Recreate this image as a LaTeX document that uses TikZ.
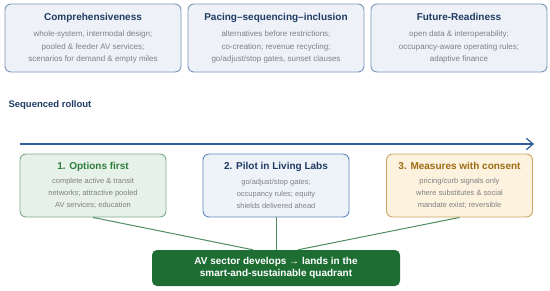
\documentclass[tikz,border=0pt]{standalone}
\usepackage{fontspec}
\setmainfont{Liberation Sans}
\usetikzlibrary{arrows.meta,positioning}
\definecolor{navy}{RGB}{31,59,99}
\definecolor{slate}{RGB}{128,128,128}
\definecolor{pillarline}{RGB}{122,149,184}
\definecolor{pillarfill}{RGB}{238,242,248}
\definecolor{optline}{RGB}{127,169,139}
\definecolor{optfill}{RGB}{230,241,233}
\definecolor{opttext}{RGB}{46,125,58}
\definecolor{pilotline}{RGB}{95,136,191}
\definecolor{pilotfill}{RGB}{238,243,250}
\definecolor{pilottext}{RGB}{31,59,99}
\definecolor{consline}{RGB}{201,166,100}
\definecolor{consfill}{RGB}{253,242,222}
\definecolor{constext}{RGB}{156,107,18}
\definecolor{forest}{RGB}{30,110,52}
\definecolor{ocean}{RGB}{46,94,158}
\definecolor{moss}{RGB}{79,140,95}
\newcommand{\cardtitle}[2]{{\color{#1}\bfseries\fontsize{10}{12}\selectfont #2}}
\tikzset{
  >={Straight Barb[length=2.4mm,width=4mm]},
  pillar/.style={draw=pillarline,fill=pillarfill,rounded corners=6pt,line width=0.9pt,
    minimum width=176pt,minimum height=68pt,inner sep=0pt,align=center,text=slate,
    font=\fontsize{8}{12.2}\selectfont},
  stage/.style={draw=#1line,fill=#1fill,rounded corners=6pt,line width=0.9pt,
    minimum width=146pt,minimum height=63pt,inner sep=0pt,align=center,text=slate,
    font=\fontsize{7.5}{12}\selectfont},
  outcome/.style={fill=forest,text=white,rounded corners=5pt,minimum width=248pt,
    minimum height=36pt,inner sep=0pt,align=center,font=\bfseries\fontsize{10}{12.3}\selectfont},
  link/.style={draw=moss,line width=1pt},
  timeline/.style={->,draw=ocean,line width=1.2pt},
}

\begin{document}
\begin{tikzpicture}[x=1pt,y=1pt]
    \useasboundingbox (0,0) rectangle (550,290);
    % guiding principles
    \node[pillar] (compr) at (93,252) {\cardtitle{navy}{Comprehensiveness}\\[4.5pt]
      whole-system, intermodal design;\\ pooled \& feeder AV services;\\ scenarios for demand \& empty miles};
    \node[pillar] (pacing) at (276,252) {\cardtitle{navy}{Pacing–sequencing–inclusion}\\[4.5pt]
      alternatives before restrictions;\\ co-creation; revenue recycling;\\ go/adjust/stop gates, sunset clauses};
    \node[pillar] (future) at (459,252) {\cardtitle{navy}{Future-Readiness}\\[4.5pt]
      open data \& interoperability;\\ occupancy-aware operating rules;\\ adaptive finance};
    % rollout
    \node[anchor=west,text=navy,font=\bfseries\fontsize{9.5}{11}\selectfont] (seq) at (5,185) {Sequenced rollout};
    \coordinate (tstart) at (20,146);
    \coordinate (tend) at (534,146);
    \draw[timeline] (tstart) -- (tend);
    \node[stage=opt] (opt) at (93,104.5) {\cardtitle{opttext}{1. Options first}\\[2.5pt]
      complete active \& transit\\ networks; attractive pooled\\ AV services; education};
    \node[stage=pilot] (pilot) at (276,104.5) {\cardtitle{pilottext}{2. Pilot in Living Labs}\\[2.5pt]
      go/adjust/stop gates;\\ occupancy rules; equity\\ shields delivered ahead};
    \node[stage=cons] (cons) at (459.5,104.5) {\cardtitle{constext}{3. Measures with consent}\\[2.5pt]
      pricing/curb signals only\\ where substitutes \& social\\ mandate exist; reversible};
    \node[outcome] (av) at (276,22) {AV sector develops → lands in the\\ smart-and-sustainable quadrant};
    \foreach \s/\dx in {opt/-23,pilot/0,cons/22}
      \draw[link] (\s.south) -- ([xshift=\dx pt]av.north);
  \end{tikzpicture}
\end{document}
